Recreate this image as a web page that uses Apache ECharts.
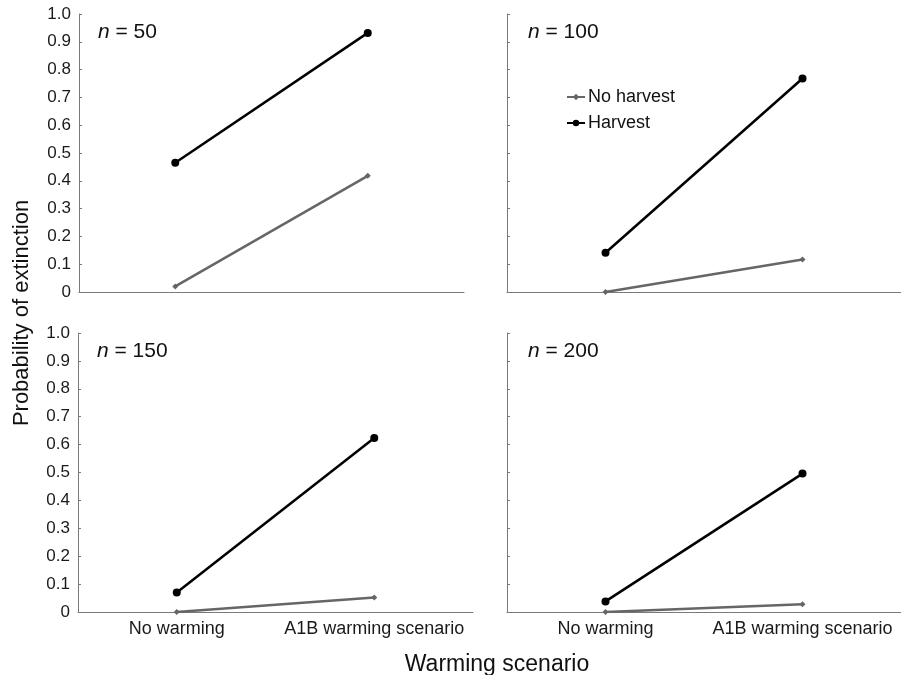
<!DOCTYPE html>
<html>
<head>
<meta charset="utf-8">
<script src="https://cdn.jsdelivr.net/npm/echarts@6/dist/echarts.min.js"></script>
<style>html,body{margin:0;padding:0;background:#fff}#c{width:901px;height:675px}</style>
</head>
<body>
<div id="c"></div>
<script>
const categories = ['No warming', 'A1B warming scenario'];
const panelLabels = ['50', '100', '150', '200'];
const noHarvest50 = [0.02, 0.418];
const harvest50 = [0.465, 0.932];
const noHarvest100 = [0.0, 0.117];
const harvest100 = [0.141, 0.768];
const noHarvest150 = [0.0, 0.052];
const harvest150 = [0.07, 0.624];
const noHarvest200 = [0.0, 0.028];
const harvest200 = [0.038, 0.496];
const yTicks = [0, 0.1, 0.2, 0.3, 0.4, 0.5, 0.6, 0.7, 0.8, 0.9, 1.0];

const noHarvest = [noHarvest50, noHarvest100, noHarvest150, noHarvest200];
const harvest = [harvest50, harvest100, harvest150, harvest200];

const font = 'Liberation Sans, Arial, Helvetica, sans-serif';
const grids = [
  {left: 79, top: 14, width: 385, height: 278},
  {left: 507, top: 14, width: 398, height: 278},
  {left: 78, top: 333, width: 395, height: 279},
  {left: 507, top: 333, width: 395, height: 279}
];
const axisCol = '#7a7a7a';
const xAxes = grids.map((g, i) => ({
  type: 'category', gridIndex: i, data: categories, boundaryGap: true,
  axisLine: {lineStyle: {color: axisCol, width: 1}},
  axisTick: {show: false},
  axisLabel: {show: i >= 2, fontSize: 18, color: '#1a1a1a', fontFamily: font, margin: 8, interval: 0}
}));
const yAxes = grids.map((g, i) => ({
  type: 'value', gridIndex: i, min: 0, max: 1, interval: 0.1,
  splitLine: {show: false},
  axisLine: {show: true, lineStyle: {color: axisCol, width: 1}},
  axisTick: {show: true, inside: true, length: 3, lineStyle: {color: axisCol}},
  axisLabel: {
    show: i % 2 === 0, fontSize: 17, color: '#1a1a1a', fontFamily: font, margin: 8,
    formatter: v => {
      const t = yTicks.find(x => Math.abs(x - v) < 1e-6);
      if (t === undefined) return '';
      return t === 0 ? '0' : t.toFixed(1);
    }
  }
}));
const series = [];
for (let i = 0; i < 4; i++) {
  series.push({
    name: 'No harvest', type: 'line', xAxisIndex: i, yAxisIndex: i, data: noHarvest[i],
    symbol: 'diamond', symbolSize: 6, showSymbol: true,
    lineStyle: {color: '#666666', width: 2.5}, itemStyle: {color: '#666666'},
    animation: false, z: 2
  });
  series.push({
    name: 'Harvest', type: 'line', xAxisIndex: i, yAxisIndex: i, data: harvest[i],
    symbol: 'circle', symbolSize: 8, showSymbol: true,
    lineStyle: {color: '#000000', width: 2.5}, itemStyle: {color: '#000000'},
    animation: false, z: 3
  });
}
const titles = grids.map((g, i) => ({
  text: '{i|n} = ' + panelLabels[i],
  left: g.left + (i % 2 === 0 ? 14 : 16), top: g.top + 3,
  textStyle: {
    fontSize: 21, fontWeight: 'normal', color: '#111', fontFamily: font,
    rich: {i: {fontStyle: 'italic', fontSize: 21, color: '#111', fontFamily: font}}
  }
}));
titles.push({
  text: 'Warming scenario', left: 492, top: 648, textAlign: 'center',
  textStyle: {fontSize: 23, fontWeight: 'normal', color: '#111', fontFamily: font}
});
const chart = echarts.init(document.getElementById('c'), null, {renderer: 'canvas'});
chart.setOption({
  animation: false,
  backgroundColor: '#ffffff',
  title: titles,
  legend: {
    data: ['No harvest', 'Harvest'], orient: 'vertical', left: 561, top: 83,
    itemWidth: 18, itemHeight: 8, itemGap: 8,
    textStyle: {fontSize: 18, color: '#111', fontFamily: font, padding: [0, 0, 0, -2]}
  },
  graphic: [{
    type: 'text', rotation: Math.PI / 2,
    x: 22, y: 313,
    style: {text: 'Probability of extinction', fontSize: 22, fill: '#111', fontFamily: font, textAlign: 'center', textVerticalAlign: 'middle'}
  }],
  grid: grids,
  xAxis: xAxes,
  yAxis: yAxes,
  series: series
});
</script>
</body>
</html>
